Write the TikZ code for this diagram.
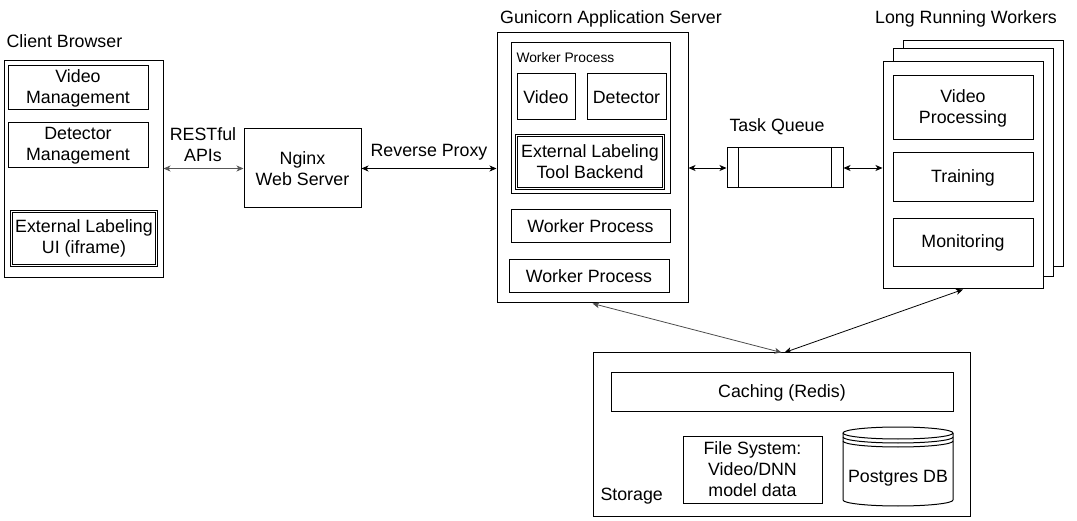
\documentclass[tikz,border=0pt]{standalone}
\usepackage{fontspec}
\setmainfont{Liberation Sans}
\usetikzlibrary{arrows.meta,calc}
\newcommand\mainfs{\fontsize{17.8}{21}\selectfont}
\newcommand\smallfs{\fontsize{13.8}{16}\selectfont}
\begin{document}
\begin{tikzpicture}[x=1pt,y=-1pt,line width=1pt,
  font=\mainfs,
  box/.style={draw,fill=white,inner sep=0pt,align=center},
  dbl/.style={draw,double,double distance=1.6pt,inner sep=0pt,align=center},
  lbl/.style={inner sep=0pt,align=center},
  biarrow/.style={{Stealth[length=7pt,width=6pt,inset=2pt]}-{Stealth[length=7pt,width=6pt,inset=2pt]},line width=0.8pt}]
\useasboundingbox (0,0) rectangle (1077,521);

% Client browser
\node[lbl,anchor=west] (cbl) at (6,41) {Client Browser};
\node[box,minimum width=159,minimum height=217] (cb) at (83.5,169.5) {};
\node[box,minimum width=140,minimum height=44] (vm) at (78,88) {Video\\Management};
\node[box,minimum width=140,minimum height=45] (dm) at (78,145.5) {Detector\\Management};
\node[dbl,minimum width=145,minimum height=54] (elui) at (84,238.5) {External Labeling\\UI (iframe)};

% Nginx
\node[box,minimum width=117,minimum height=79] (ng) at (302.5,168.5) {Nginx\\Web Server};
\node[lbl] (rest) at (203,145) {RESTful\\APIs};
\node[lbl] (rp) at (429,152) {Reverse Proxy};

% Gunicorn
\node[lbl] (gunl) at (611,19) {Gunicorn Application Server};
\node[box,minimum width=191,minimum height=270] (gun) at (592.5,168) {};
\node[box,minimum width=159,minimum height=151] (wp1) at (590.5,118.5) {};
\node[lbl,anchor=west,font=\smallfs] (wp1l) at (516,58) {Worker Process};
\node[box,minimum width=58,minimum height=46] (vid) at (546,97) {Video};
\node[box,minimum width=79,minimum height=46] (det) at (626.5,97) {Detector};
\node[dbl,minimum width=147,minimum height=53] (eltb) at (590,162) {External Labeling\\Tool Backend};
\node[box,minimum width=159,minimum height=33] (wp2) at (590.5,226.5) {Worker Process};
\node[box,minimum width=160,minimum height=33] (wp3) at (589,276.5) {Worker Process};

% Task queue
\node[lbl] (tql) at (777,127) {Task Queue};
\node[box,minimum width=116,minimum height=40] (tq) at (785,168) {};
\draw ([xshift=12pt]tq.north west) -- ([xshift=12pt]tq.south west);
\draw ([xshift=-12pt]tq.north east) -- ([xshift=-12pt]tq.south east);

% Long running workers
\node[lbl] (lrwl) at (966,19) {Long Running Workers};
\node[box,minimum width=160,minimum height=226] (w3) at (983,154) {};
\node[box,minimum width=160,minimum height=228] (w2) at (973,163) {};
\node[box,minimum width=160,minimum height=227] (w1) at (963,175.5) {};
\node[box,minimum width=140,minimum height=64] (vp) at (963,108) {Video\\Processing};
\node[box,minimum width=140,minimum height=49] (tr) at (963,177.5) {Training};
\node[box,minimum width=140,minimum height=48] (mon) at (963,243) {Monitoring};

% Storage
\node[box,minimum width=377,minimum height=163] (st) at (781.5,434.5) {};
\node[lbl,anchor=west] (stl) at (600,496) {Storage};
\node[box,minimum width=342,minimum height=39] (cache) at (782,392.5) {Caching (Redis)};
\node[box,minimum width=139,minimum height=67] (fs) at (752.5,469.5) {File System:\\Video/DNN\\model data};
\draw[fill=white] (843,433) -- (843,500) arc[start angle=180,end angle=360,x radius=55pt,y radius=6pt] -- (953,433);
\draw (898,433) ellipse[x radius=55pt,y radius=6pt];
\draw (843,437) arc[start angle=180,end angle=360,x radius=55pt,y radius=6pt];
\draw (843,441) arc[start angle=180,end angle=360,x radius=55pt,y radius=6pt];
\node[lbl] (pg) at (898,478) {Postgres DB};

% Connectors
\draw[biarrow,draw=black!65] (cb.east |- ng.west) -- (ng.west);
\draw[biarrow] (ng.east) -- (ng.east -| gun.west);
\draw[biarrow] (gun.east |- tq.west) -- (tq.west);
\draw[biarrow] (tq.east) -- (tq.east -| w1.west);
\draw[biarrow,draw=black!70] (gun.south) -- (st.north);
\draw[biarrow] (w1.south) -- ([xshift=3pt]st.north);
\end{tikzpicture}
\end{document}
